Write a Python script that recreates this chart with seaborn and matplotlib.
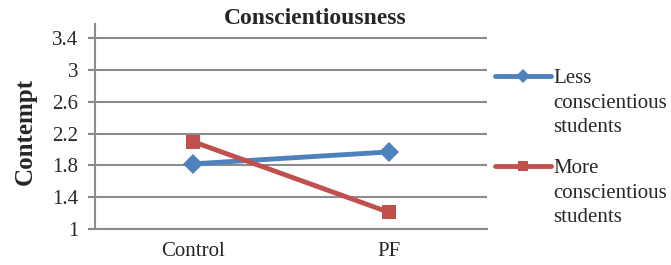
import pandas as pd
import matplotlib
matplotlib.use("Agg")
import matplotlib.pyplot as plt
import seaborn as sns

# data
conditions = ["Control", "PF"]
less_consc = [1.82, 1.97]
more_consc = [2.10, 1.21]
groups = ["Less\nconscientious\nstudents", "More\nconscientious\nstudents"]
yticks = [1, 1.4, 1.8, 2.2, 2.6, 3, 3.4]

df = pd.DataFrame({
    "cond": conditions * 2,
    "x": [0, 1] * 2,
    "value": less_consc + more_consc,
    "group": [groups[0]] * 2 + [groups[1]] * 2,
})

sns.set_style("white")
plt.rcParams["font.family"] = ["Liberation Serif", "DejaVu Serif"]

fig = plt.figure(figsize=(6.71, 2.65), dpi=100)
ax = fig.add_axes([0.1416, 0.1358, 0.5842, 0.7736])

sns.lineplot(data=df, x="x", y="value", hue="group", style="group",
             palette=["#4F81BD", "#C0504D"], markers=["D", "s"], dashes=False,
             linewidth=3.5, markersize=10, markeredgewidth=0, ax=ax)

ax.set_xlim(-0.5, 1.5)
ax.set_ylim(1, 3.58)
ax.set_yticks(yticks)
ax.set_yticklabels(["1", "1.4", "1.8", "2.2", "2.6", "3", "3.4"], fontsize=15)
ax.set_xticks([0, 1])
ax.set_xticklabels(conditions, fontsize=15)
ax.set_xticks([0.5], minor=True)
ax.tick_params(axis="x", which="major", length=0, pad=9)
ax.tick_params(axis="x", which="minor", length=5, width=1.5, color="#888888")
ax.tick_params(axis="y", length=5, width=1.5, color="#888888", pad=7, left=True)
ax.grid(axis="y", color="#8c8c8c", linewidth=1.5)
ax.set_axisbelow(True)
for s in ["top", "right"]:
    ax.spines[s].set_visible(False)
for s in ["left", "bottom"]:
    ax.spines[s].set_color("#8c8c8c")
    ax.spines[s].set_linewidth(1.5)

ax.set_xlabel("")
ax.set_ylabel("Contempt", fontsize=18, fontweight="bold")
ax.yaxis.set_label_coords(-0.148, 0.475)
fig.text(315 / 671, 1 - 19 / 265, "Conscientiousness", ha="center", va="center",
         fontsize=17, fontweight="bold")

leg = ax.legend(loc="upper left", bbox_to_anchor=(1.02, 0.78), frameon=False,
                fontsize=15, handlelength=2.7, handletextpad=0.1,
                labelspacing=1.05, borderaxespad=0, borderpad=0)
for t in leg.get_texts():
    t.set_linespacing(1.4)
# put each handle level with the first line of its label
for col in leg._legend_handle_box.get_children():
    for row in col.get_children():
        row.align = "top"
for h in leg.legend_handles:
    h.set_markersize(7)

fig.savefig("out.png", dpi=100)
